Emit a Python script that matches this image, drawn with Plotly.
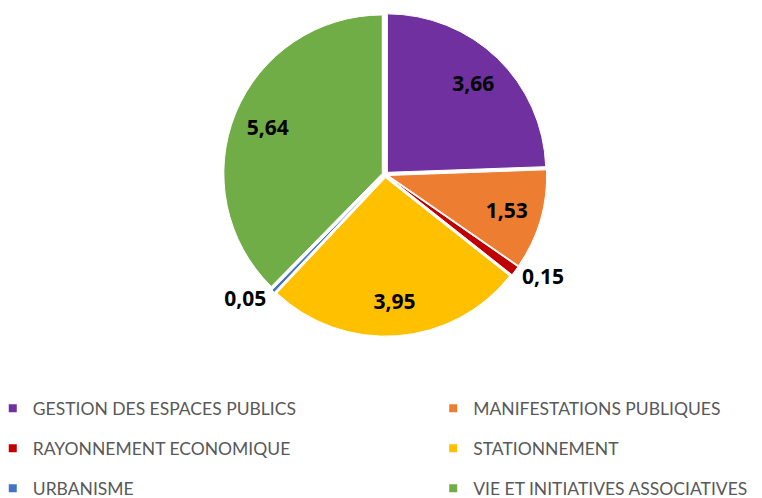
import plotly.graph_objects as go

categories = ['GESTION DES ESPACES PUBLICS', 'MANIFESTATIONS PUBLIQUES',
              'RAYONNEMENT ECONOMIQUE', 'STATIONNEMENT',
              'URBANISME', 'VIE ET INITIATIVES ASSOCIATIVES']
values = [3.66, 1.53, 0.15, 3.95, 0.05, 5.64]
colors = ['#7030A0', '#ED7D31', '#C00000', '#FFC000', '#4472C4', '#70AD47']
text_pos = ['inside', 'inside', 'outside', 'inside', 'outside', 'inside']

pie_domain = dict(x=[0.14, 0.85], y=[0.341, 0.990])

fig = go.Figure()
# the pie itself (no text)
fig.add_trace(go.Pie(
    labels=categories, values=values, sort=False, direction='clockwise',
    marker=dict(colors=colors, line=dict(color='white', width=1)),
    pull=0.02, textinfo='none', hoverinfo='label+value',
    domain=pie_domain, showlegend=False,
))
# transparent ring on top, only carries the value labels (pushed out towards the rim)
fig.add_trace(go.Pie(
    labels=categories, values=values, sort=False, direction='clockwise',
    marker=dict(colors=['rgba(0,0,0,0)'] * len(values), line=dict(width=0)),
    pull=0.02, hole=0.56,
    texttemplate='%{value:.2f}', textposition=text_pos,
    insidetextorientation='horizontal',
    textfont=dict(family='Open Sans', size=21, color='black', weight='bold'),
    hoverinfo='label+value',
    domain=pie_domain, showlegend=False,
))

# legend in two columns (left column -> legend, right column -> legend2)
for i, (cat, col) in enumerate(zip(categories, colors)):
    fig.add_trace(go.Scatter(
        x=[None], y=[None], mode='markers', name=cat,
        marker=dict(symbol='square', size=8, color=col),
        legend='legend' if i % 2 == 0 else 'legend2',
        legendgroup=cat, showlegend=True, hoverinfo='skip',
    ))

legend_style = dict(orientation='v', yanchor='top', y=0.232, xanchor='left',
                    tracegroupgap=14.25, itemclick=False, itemdoubleclick=False,
                    font=dict(family='Lato', size=17.5, color='#595959'),
                    bgcolor='rgba(0,0,0,0)')

fig.update_layout(
    width=762, height=498,
    margin=dict(l=0, r=0, t=0, b=0, autoexpand=False),
    paper_bgcolor='white', plot_bgcolor='white',
    separators=', ',
    showlegend=True,
    xaxis=dict(visible=False), yaxis=dict(visible=False),
    legend=dict(x=-0.02, **legend_style),
    legend2=dict(x=0.558, **legend_style),
)

fig.write_html('out.html')
